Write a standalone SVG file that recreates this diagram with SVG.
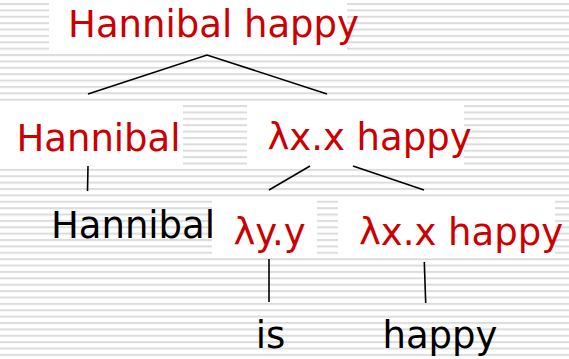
<svg xmlns="http://www.w3.org/2000/svg" width="569" height="359" viewBox="0 0 569 359">
<style>
.bg{fill:#ffffff}
.box{fill:#ffffff}
.t{font-family:"DejaVu Sans",Verdana,sans-serif;font-size:37px;text-anchor:middle}
.red{fill:#cc0000}
.blk{fill:#000000}
.edge{stroke:#000000;stroke-width:1.6;fill:none}
</style>
<defs>
<pattern id="stripes" patternUnits="userSpaceOnUse" x="0" y="3" width="569" height="6.38">
<rect x="0" y="0" width="569" height="2" fill="#dcdcdc"/>
</pattern>
</defs>
<rect class="bg" x="0" y="0" width="569" height="359"/>
<rect x="0" y="0" width="569" height="359" fill="url(#stripes)"/>
<g id="connectors">
<polyline class="edge" points="88,94 207,55 327,94"/>
<line class="edge" x1="88" y1="166" x2="87.5" y2="191"/>
<line class="edge" x1="310" y1="166" x2="269" y2="190"/>
<line class="edge" x1="353" y1="166" x2="424" y2="190"/>
<line class="edge" x1="269" y1="259" x2="269" y2="302"/>
<line class="edge" x1="424.3" y1="262" x2="425.7" y2="303"/>
</g>
<g id="n-root">
<rect class="box" x="49" y="0" width="298" height="52"/>
<text class="t red" x="213.5" y="37">Hannibal happy</text>
</g>
<g id="n-np">
<rect class="box" x="0" y="104" width="183" height="61"/>
<text class="t red" x="98.5" y="151">Hannibal</text>
</g>
<g id="n-vp">
<rect class="box" x="247" y="104" width="217" height="61"/>
<text class="t red" x="369.5" y="150">λx.x happy</text>
</g>
<g id="n-hannibal">
<text class="t blk" x="133" y="238">Hannibal</text>
</g>
<g id="n-is-sem">
<rect class="box" x="212" y="198" width="105" height="60"/>
<text class="t red" x="269.5" y="245">λy.y</text>
</g>
<g id="n-happy-sem">
<rect class="box" x="338" y="198" width="217" height="60"/>
<text class="t red" x="461" y="245">λx.x happy</text>
</g>
<g id="n-is">
<text class="t blk" x="270.5" y="348">is</text>
</g>
<g id="n-happy">
<text class="t blk" x="440" y="348">happy</text>
</g>
</svg>
